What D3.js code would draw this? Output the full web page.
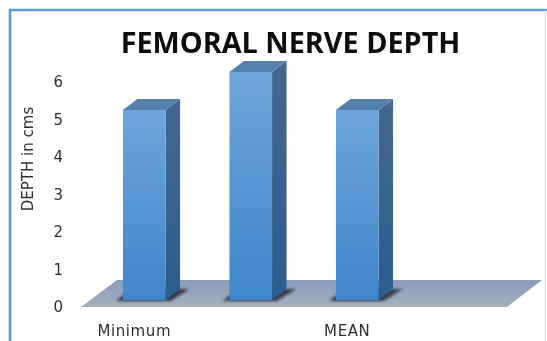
<!DOCTYPE html>
<html>
<head>
<meta charset="utf-8">
<script src="https://cdnjs.cloudflare.com/ajax/libs/d3/7.8.5/d3.min.js"></script>
<style>
  html, body { margin: 0; padding: 0; background: #fff; overflow: hidden; }
  svg { display: block; filter: blur(0.45px); }
  text { font-family: "DejaVu Sans", sans-serif; fill: #303030; }
</style>
</head>
<body>
<div id="chart"></div>
<script>
const categories = ["Minimum", " ", "MEAN", "  "];
const barCategories = ["Minimum", " ", "MEAN"];
const values = [5, 6, 5];
const yTicks = [0, 1, 2, 3, 4, 5, 6];

let svgWidth = 547;
let svgHeight = 341;
// 3d offset of the column depth
let depthX = 14.5;
let depthY = -11;
let shift = 10;

let svg = d3.select("#chart")
  .append("svg")
  .attr("width", svgWidth)
  .attr("height", svgHeight);

let defs = svg.append("defs");
function gradient(id, top, bottom) {
  let g = defs.append("linearGradient")
    .attr("id", id)
    .attr("x1", 0).attr("y1", 0).attr("x2", 0).attr("y2", 1);
  g.append("stop").attr("offset", "0%").attr("stop-color", top);
  g.append("stop").attr("offset", "100%").attr("stop-color", bottom);
}
gradient("front", "#6fa5dc", "#3f86ca");
gradient("side", "#44688f", "#2b5d90");
gradient("floor", "#8a9dbe", "#a5b0bd");
defs.append("filter").attr("id", "soft")
  .attr("x", "-20%").attr("y", "-50%").attr("width", "140%").attr("height", "200%")
  .append("feGaussianBlur").attr("stdDeviation", 1.6);

let xScale = d3.scaleBand()
  .domain(categories)
  .range([81, 507])
  .paddingInner(0.6)
  .paddingOuter(0.3);

let yScale = d3.scaleLinear()
  .domain([0, 6])
  .range([300, 72]);

// tick labels sit a bit lower and tighter than the columns (3d projection)
let yLabelScale = d3.scaleLinear()
  .domain([0, 6])
  .range([307, 82]);

// chart frame
svg.append("path")
  .attr("d", `M10,${svgHeight} V10 H${svgWidth}`)
  .attr("fill", "none")
  .attr("stroke", "#5b9bd9")
  .attr("stroke-width", 2.6);
svg.append("line")
  .attr("x1", svgWidth - 1.5).attr("x2", svgWidth - 1.5)
  .attr("y1", 10).attr("y2", svgHeight)
  .attr("stroke", "#cfe2f5");

svg.append("text")
  .attr("x", 290.5)
  .attr("y", 53)
  .attr("text-anchor", "middle")
  .style("font-family", "'Open Sans', sans-serif")
  .style("font-size", "28.8px")
  .style("font-weight", 700)
  .style("fill", "#0d0d0d")
  .text("FEMORAL NERVE DEPTH");

// floor
let floorFront = yScale(0) + 7;
let floorBack = yScale(0) - 20;
svg.append("polygon")
  .attr("points", [
    [xScale.range()[0], floorFront],
    [xScale.range()[1], floorFront],
    [xScale.range()[1] + 35, floorBack],
    [xScale.range()[0] + 36, floorBack]
  ].join(" "))
  .attr("fill", "url(#floor)");

// shadows under the columns
svg.selectAll(".shadow")
  .data(barCategories)
  .enter()
  .append("polygon")
  .attr("class", "shadow")
  .attr("filter", "url(#soft)")
  .attr("fill", "#343a45")
  .attr("points", d => {
    let x = xScale(d) + shift;
    let w = xScale.bandwidth();
    let y0 = yScale(0) + 1;
    return [[x - 7, y0], [x + w + 5, y0], [x + w + 24, y0 - 12], [x + 8, y0 - 12]].join(" ");
  });

// column side
svg.selectAll(".side")
  .data(barCategories)
  .enter()
  .append("polygon")
  .attr("class", "side")
  .attr("fill", "url(#side)")
  .attr("points", (d, i) => {
    let x = xScale(d) + shift + xScale.bandwidth();
    let top = yScale(values[i]);
    let base = yScale(0);
    return [[x, top], [x + depthX, top + depthY], [x + depthX, base + depthY], [x, base]].join(" ");
  });

// column top
svg.selectAll(".top")
  .data(barCategories)
  .enter()
  .append("polygon")
  .attr("class", "top")
  .attr("fill", "#5580ac")
  .attr("points", (d, i) => {
    let x = xScale(d) + shift;
    let w = xScale.bandwidth();
    let top = yScale(values[i]);
    return [[x, top], [x + w, top], [x + w + depthX, top + depthY], [x + depthX, top + depthY]].join(" ");
  });

// column front
svg.selectAll(".bar")
  .data(barCategories)
  .enter()
  .append("rect")
  .attr("class", "bar")
  .attr("x", d => xScale(d) + shift)
  .attr("y", (d, i) => yScale(values[i]))
  .attr("width", xScale.bandwidth())
  .attr("height", (d, i) => yScale(0) - yScale(values[i]))
  .attr("fill", "url(#front)");

// axes
let leftAxis = d3.axisLeft(yLabelScale).tickValues(yTicks).tickFormat(d3.format("d")).tickSize(0).tickPadding(0);
let yAxis = svg.append("g")
  .attr("transform", "translate(63,0)")
  .call(leftAxis);
yAxis.select(".domain").remove();
yAxis.selectAll("text")
  .style("font-size", "15px")
  .style("font-family", "'DejaVu Sans', sans-serif");

let bottomAxis = d3.axisBottom(xScale).tickSize(0).tickPadding(0);
let xAxis = svg.append("g")
  .attr("transform", "translate(0,325)")
  .call(bottomAxis);
xAxis.select(".domain").remove();
xAxis.selectAll("text")
  .style("font-size", "15px")
  .style("letter-spacing", "0.6px")
  .style("font-family", "'DejaVu Sans', sans-serif");

svg.append("text")
  .attr("transform", "translate(33,159) rotate(-90)")
  .attr("text-anchor", "middle")
  .style("font-size", "15px")
  .text("DEPTH in cms");
</script>
</body>
</html>
